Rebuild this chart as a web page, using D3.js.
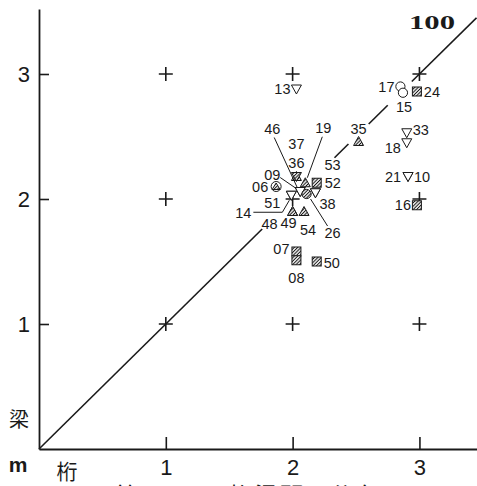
<!DOCTYPE html>
<html>
<head>
<meta charset="utf-8">
<script src="https://cdn.jsdelivr.net/npm/d3@7"></script>
<style>
  body { margin: 0; background: #fff; }
  text { font-family: "Liberation Sans", Arial, sans-serif; fill: #1a1a1a; }
</style>
</head>
<body>
<svg width="477" height="486"></svg>
<script>
// 桁 / 梁 spacing (m) for each building
var ids   = ["13","17","15","24","35","33","18","21","10","16","36","37","19","52","53","46","09","06","51","14","38","26","49","48","54","07","08","50"];
var keta  = [2.03,2.85,2.87,2.98,2.52,2.90,2.90,2.91,2.91,2.98,2.03,2.03,2.10,2.19,2.18,2.06,2.06,1.87,1.99,1.99,2.18,2.11,2.00,2.00,2.09,2.03,2.03,2.19];
var hari  = [2.88,2.90,2.85,2.86,2.46,2.53,2.45,2.18,2.18,1.95,2.18,2.18,2.13,2.13,2.05,2.06,2.06,2.10,2.03,2.03,2.05,2.04,1.90,1.90,1.90,1.58,1.51,1.50];
var kinds = ["itri","circ","circ","sq","tri","itri","itri","itri","itri","sq","tri","hitri","tri","sq","itri","itri","itri","ctri","itri","itri","itri","hcirc","tri","tri","tri","sq","sq","sq"];

var gridVals = [1, 2, 3];
var tickVals = [1, 2, 3];
// pieces of the 100% line (桁 from..to), broken where labels sit
var diagPieces = [[0, 1.76], [2.33, 2.44], [2.60, 2.75], [2.94, 3.45]];

// label placement relative to marker (px)
var labelPos = {
  "13":[-14,0],"17":[-14,0],"15":[1,14],"24":[15,0],"35":[0,-13],"33":[14,-3],"18":[-14,5],
  "21":[-15,0],"10":[14,0],"16":[-14,0],"36":[0,-14],"37":[0,-33],"19":[18,-55],"52":[16,0],
  "53":[17,-28],"46":[-28,-63],"09":[-28,-17],"06":[-16,0],"51":[-19,8],"14":[-48,18],
  "38":[12,11],"26":[26,39],"49":[-4,11],"48":[-23,12],"54":[4,18],"07":[-15,-3],"08":[0,18],"50":[15,1]
};
var leaders = {
  "19":[[17,-46],[2,-5]],
  "46":[[-26,-54],[-3,-4]],
  "09":[[-20,-14],[-4,-3]],
  "14":[[-38,17],[-9,17],[-2,5]],
  "26":[[21,32],[4,5]]
};

var ink = "#1a1a1a";
var svg = d3.select("svg");
var x = d3.scaleLinear().domain([0, 3.45]).range([39, 476.5]);
var y = d3.scaleLinear().domain([0, 3.52]).range([449, 449 - 3.52 * 125]);

var defs = svg.append("defs");
var pat = defs.append("pattern").attr("id", "hatch").attr("patternUnits", "userSpaceOnUse")
  .attr("width", 2.4).attr("height", 2.4).attr("patternTransform", "rotate(45)");
pat.append("rect").attr("width", 2.4).attr("height", 2.4).attr("fill", "#ddd");
pat.append("line").attr("x1", 0).attr("y1", 0).attr("x2", 0).attr("y2", 2.4)
  .attr("stroke", "#111").attr("stroke-width", 1.6);

// diagonal 100% line
var diag = d3.line().x(function(d){ return x(d); }).y(function(d){ return y(d); });
svg.selectAll(".diag").data(diagPieces).enter().append("path")
  .attr("class", "diag")
  .attr("d", function(d){ return diag(d); })
  .attr("stroke", ink).attr("stroke-width", 1.6).attr("fill", "none");

// axes
var yAxis = svg.append("g").attr("transform", "translate(" + x(0) + ",0)")
  .call(d3.axisLeft(y).tickValues(tickVals).tickSize(-10).tickSizeOuter(0).tickPadding(9).tickFormat(d3.format("d")));
var xAxis = svg.append("g").attr("transform", "translate(0," + y(0) + ")")
  .call(d3.axisBottom(x).tickValues(tickVals).tickSize(-12).tickSizeOuter(0).tickPadding(10).tickFormat(d3.format("d")));
[yAxis, xAxis].forEach(function(a){
  a.select(".domain").attr("stroke", ink).attr("stroke-width", 1.8);
  a.selectAll(".tick line").attr("stroke", ink).attr("stroke-width", 1.6);
  a.selectAll(".tick text").attr("font-size", 22).attr("fill", ink)
    .style("font-family", "'Liberation Sans', Arial, sans-serif");
});

// grid crosses
var crosses = [];
gridVals.forEach(function(gx){ gridVals.forEach(function(gy){ crosses.push([gx, gy]); }); });
svg.selectAll(".cross").data(crosses).enter().append("path")
  .attr("class", "cross")
  .attr("d", function(d){
    var cx = x(d[0]), cy = y(d[1]);
    return "M" + (cx - 7) + "," + cy + "H" + (cx + 7) + "M" + cx + "," + (cy - 7) + "V" + (cy + 7);
  })
  .attr("stroke", ink).attr("stroke-width", 1.6);

// markers
var pts = ids.map(function(id, i){ return {id: id, x: keta[i], y: hari[i], kind: kinds[i]}; });
function shape(g, k) {
  var hatched = (k == "tri" || k == "hitri" || k == "sq" || k == "hcirc");
  var fill = hatched ? "url(#hatch)" : "#fff";
  if (k == "tri") g.append("path").attr("d", "M0,-5L5,4L-5,4Z");
  else if (k == "itri" || k == "hitri") g.append("path").attr("d", "M0,5L5,-4L-5,-4Z");
  else if (k == "sq") g.append("rect").attr("x", -4.5).attr("y", -4.5).attr("width", 9).attr("height", 9);
  else if (k == "circ" || k == "hcirc") g.append("circle").attr("r", 4.6);
  else if (k == "ctri") {
    g.append("circle").attr("r", 5);
    g.append("path").attr("d", "M0,-3.5L4,3L-4,3Z").attr("class", "inner");
  }
  g.selectAll("*").attr("fill", fill).attr("stroke", ink).attr("stroke-width", 1);
  g.selectAll(".inner").attr("fill", "url(#hatch)");
}
svg.selectAll(".pt").data(pts).enter().append("g")
  .attr("class", "pt")
  .attr("transform", function(d){ return "translate(" + x(d.x) + "," + y(d.y) + ")"; })
  .each(function(d){ shape(d3.select(this), d.kind); });

// leader lines
svg.selectAll(".lead").data(pts.filter(function(d){ return leaders[d.id]; })).enter().append("path")
  .attr("class", "lead")
  .attr("d", function(d){
    return d3.line()(leaders[d.id].map(function(p){ return [x(d.x) + p[0], y(d.y) + p[1]]; }));
  })
  .attr("fill", "none").attr("stroke", ink).attr("stroke-width", 1);

// point labels
svg.selectAll(".lbl").data(pts).enter().append("text")
  .attr("class", "lbl")
  .attr("x", function(d){ return x(d.x) + labelPos[d.id][0]; })
  .attr("y", function(d){ return y(d.y) + labelPos[d.id][1]; })
  .attr("text-anchor", "middle").attr("dominant-baseline", "central")
  .attr("font-size", 14.5)
  .text(function(d){ return d.id; });

// annotations
svg.append("text").attr("x", 432).attr("y", 29).attr("text-anchor", "middle")
  .attr("font-size", 19).attr("font-weight", "bold")
  .attr("textLength", 46).attr("lengthAdjust", "spacingAndGlyphs")
  .style("font-family", "'Liberation Serif', 'DejaVu Serif', serif")
  .text("100");
svg.append("text").attr("x", 19).attr("y", 427).attr("text-anchor", "middle")
  .attr("font-size", 20).style("font-family", "'Noto Sans CJK JP', sans-serif")
  .text("梁");
svg.append("text").attr("x", 18).attr("y", 472).attr("text-anchor", "middle")
  .attr("font-size", 21).attr("font-weight", "bold").text("m");
svg.append("text").attr("x", 67).attr("y", 479).attr("text-anchor", "middle")
  .attr("font-size", 21).style("font-family", "'Noto Sans CJK JP', sans-serif")
  .text("桁");
svg.append("text").attr("x", 115).attr("y", 506)
  .attr("font-size", 25).style("font-family", "'Noto Sans CJK JP', sans-serif")
  .text("第 25 図　桁梁間隔分布図");
</script>
</body>
</html>
